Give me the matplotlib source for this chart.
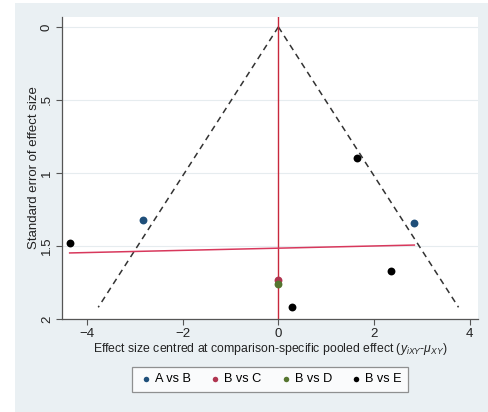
import numpy as np
import matplotlib
matplotlib.use("Agg")
import matplotlib.pyplot as plt
from matplotlib.patches import Rectangle

plt.rcParams['font.family'] = ['Liberation Sans', 'DejaVu Sans']
plt.rcParams['mathtext.fontset'] = 'custom'
plt.rcParams['mathtext.rm'] = 'Liberation Sans'
plt.rcParams['mathtext.it'] = 'Liberation Sans:italic'

# Data: centred effect size and standard error per comparison
groups = ["A vs B", "B vs C", "B vs D", "B vs E"]
colors = ["#1f4f7a", "#b03550", "#55752f", "#000000"]
effects = {
    "A vs B": [-2.82, 2.84],
    "B vs C": [0.0],
    "B vs D": [0.0],
    "B vs E": [-4.36, 1.65, 2.36, 0.29],
}
ses = {
    "A vs B": [1.32, 1.34],
    "B vs C": [1.73],
    "B vs D": [1.76],
    "B vs E": [1.48, 0.90, 1.67, 1.92],
}
xticks = [-4, -2, 0, 2, 4]
yticks = [0, 0.5, 1, 1.5, 2]
yticklabels = ["0", ".5", "1", "1.5", "2"]

W, H = 488, 412
fig = plt.figure(figsize=(W / 100, H / 100), dpi=100, facecolor="white")
bg = "#eaf0f3"
fig.patches.append(Rectangle((15 / W, 0), 1 - 15 / W, 1 - 3 / H,
                             transform=fig.transFigure, facecolor=bg,
                             edgecolor="none", zorder=-10))

ax = fig.add_axes([62 / W, 1 - 319 / H, (478 - 62) / W, (319 - 17) / H])
ax.set_facecolor("white")

# gridlines
for yv in yticks:
    ax.axhline(yv, color="#e6ecef", lw=0.8, zorder=0)

all_x = np.concatenate([effects[g] for g in groups])
all_y = np.concatenate([ses[g] for g in groups])
se_max = all_y.max()

# pseudo 95% limits
se_line = np.array([0, se_max])
ax.plot(-1.96 * se_line, se_line, color="#333333", lw=1.1, dashes=(4, 3), zorder=2)
ax.plot(1.96 * se_line, se_line, color="#333333", lw=1.1, dashes=(4, 3), zorder=2)

# vertical line at zero
ax.axvline(0, color="#c8283c", lw=1.0, zorder=2)

# regression line
b, a = np.polyfit(all_x, all_y, 1)
xr = np.array([all_x.min(), all_x.max()])
ax.plot(xr, a + b * xr, color="#d8385c", lw=1.1, zorder=2)

for g, c in zip(groups, colors):
    ax.scatter(effects[g], ses[g], s=32, color=c, label=g, zorder=3, linewidths=0)

ax.set_xlim(-4.52, 4.17)
ax.set_ylim(1.97, -0.068)
ax.set_xticks(xticks)
ax.set_yticks(yticks)
ax.set_yticklabels(yticklabels, rotation=90, va="center")
for s in ["top", "right"]:
    ax.spines[s].set_visible(False)
for s in ["left", "bottom"]:
    ax.spines[s].set_color("#555555")
    ax.spines[s].set_linewidth(0.9)
ax.tick_params(axis="both", colors="#555555", labelcolor="#222222", labelsize=9.5,
               length=4, width=0.8, pad=2.5)
ax.set_ylabel("Standard error of effect size", fontsize=9.5, color="#222222", labelpad=1)
ax.set_xlabel(r"Effect size centred at comparison-specific pooled effect ($y_{iXY}$-$\mu_{XY}$)",
              fontsize=8.8, color="#222222", labelpad=1)

leg = fig.legend(loc="center", bbox_to_anchor=(270 / W, 1 - 379.5 / H), ncol=4,
                 frameon=True, fancybox=False, fontsize=9.2, handletextpad=0.1,
                 columnspacing=1.3, markerscale=0.7, borderpad=0.5, handlelength=1.2)
leg.get_frame().set_edgecolor("#777777")
leg.get_frame().set_linewidth(0.9)

fig.savefig("out.png", dpi=100, facecolor=fig.get_facecolor())
